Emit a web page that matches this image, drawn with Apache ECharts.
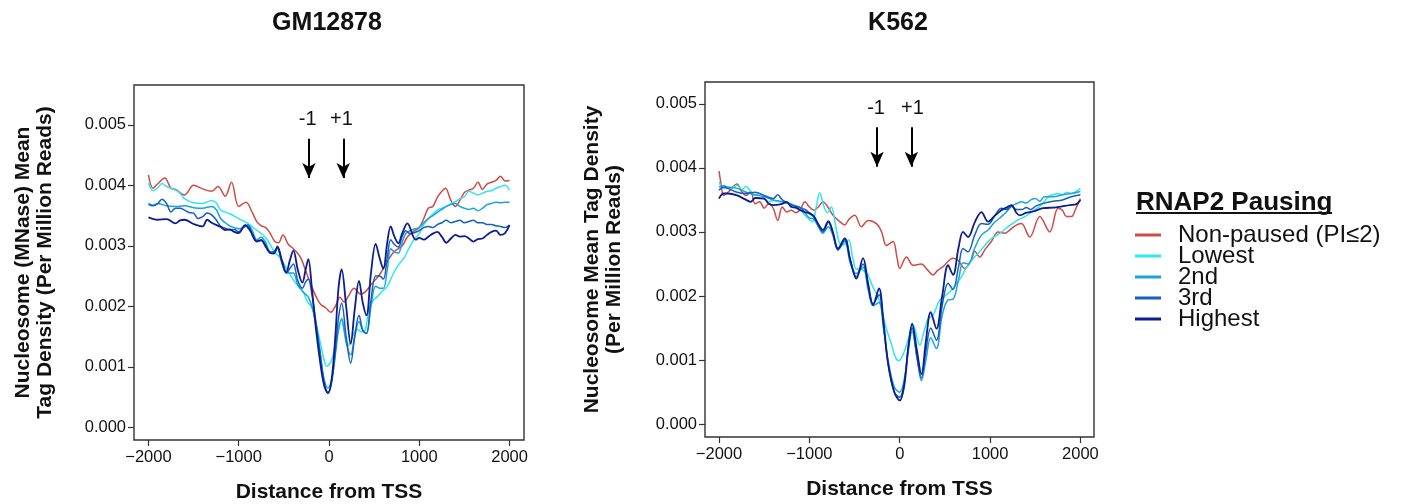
<!DOCTYPE html>
<html>
<head>
<meta charset="utf-8">
<script src="https://cdn.jsdelivr.net/npm/echarts@6/dist/echarts.min.js"></script>
<style>
html,body{margin:0;padding:0;background:#fff;}
#chart{width:1401px;height:504px;}
</style>
</head>
<body>
<div id="chart"></div>
<script>
// Values are mean tag density in units of 10^-3 (per million reads); x = distance from TSS (bp)
const X_TICKS = [-2000, -1000, 0, 1000, 2000];
const Y_TICKS = [0, 1, 2, 3, 4, 5];
const GROUPS = ['Non-paused (PI\u22642)', 'Lowest', '2nd', '3rd', 'Highest'];
const COLORS = ['#D04A45', '#2EE6EE', '#1BA3DC', '#155FBE', '#0D1C8E'];
const PANEL_TITLES = ['GM12878', 'K562'];

// ---------- GM12878 ----------
const gmNonPaused = [[-2000,4.17],[-1950,3.95],[-1900,4.02],[-1820,4.12],[-1750,3.95],[-1700,3.93],[-1600,3.84],[-1500,4.0],[-1400,3.94],[-1300,3.9],[-1230,3.98],[-1150,3.82],[-1080,4.05],[-1000,3.65],[-920,3.72],[-850,3.55],[-800,3.4],[-750,3.33],[-700,3.3],[-650,3.2],[-600,3.07],[-560,3.05],[-510,3.18],[-450,3.02],[-400,2.96],[-320,2.82],[-250,2.55],[-185,2.3],[-140,2.15],[-92,2.03],[-40,1.98],[20,1.9],[70,2.0],[122,2.15],[166,2.07],[220,2.18],[277,2.3],[351,2.2],[410,2.25],[462,2.35],[520,2.45],[572,2.55],[646,2.74],[720,2.9],[812,3.0],[870,3.15],[950,3.25],[1000,3.3],[1050,3.45],[1100,3.62],[1150,3.65],[1200,3.8],[1250,3.9],[1290,3.95],[1350,3.75],[1400,3.65],[1450,3.75],[1500,3.88],[1550,3.92],[1600,3.95],[1650,4.05],[1700,3.93],[1750,4.02],[1800,4.05],[1850,4.08],[1900,4.15],[1950,4.07],[2000,4.08]];
const gmLowest = [[-2000,4.04],[-1950,3.91],[-1900,3.95],[-1850,4.03],[-1800,3.98],[-1750,3.95],[-1700,3.92],[-1650,3.87],[-1600,3.78],[-1500,3.71],[-1400,3.7],[-1300,3.75],[-1250,3.71],[-1200,3.59],[-1100,3.53],[-1000,3.45],[-900,3.37],[-831,3.29],[-750,3.2],[-683,3.1],[-600,2.89],[-540,2.8],[-462,2.6],[-400,2.45],[-351,2.35],[-290,2.25],[-240,2.08],[-185,1.97],[-150,1.75],[-111,1.5],[-60,1.15],[-26,1.01],[20,1.08],[55,1.25],[100,1.6],[137,1.77],[175,1.55],[214,1.35],[260,1.5],[314,1.62],[360,1.58],[400,1.6],[443,1.95],[490,2.1],[536,2.16],[590,2.25],[646,2.33],[700,2.5],[757,2.66],[831,2.8],[900,3.0],[950,3.12],[1000,3.2],[1050,3.35],[1100,3.45],[1150,3.52],[1200,3.59],[1250,3.62],[1300,3.65],[1350,3.7],[1400,3.73],[1450,3.78],[1500,3.81],[1550,3.9],[1600,3.87],[1650,3.84],[1700,3.87],[1750,3.9],[1800,3.91],[1850,3.95],[1900,3.98],[1950,4.0],[2000,3.92]];
const gm2nd = [[-2000,3.7],[-1950,3.67],[-1900,3.7],[-1800,3.66],[-1700,3.65],[-1600,3.66],[-1500,3.63],[-1400,3.62],[-1300,3.65],[-1250,3.6],[-1200,3.45],[-1150,3.38],[-1100,3.33],[-1050,3.3],[-1000,3.28],[-950,3.3],[-900,3.35],[-850,3.25],[-800,3.1],[-750,3.14],[-700,3.05],[-650,2.9],[-610,2.9],[-572,2.95],[-520,2.7],[-473,2.55],[-435,2.55],[-395,2.55],[-345,2.35],[-295,2.25],[-260,2.2],[-229,2.15],[-190,2.0],[-150,1.75],[-100,1.25],[-55,0.8],[-11,0.65],[30,0.8],[70,1.2],[105,1.6],[140,1.8],[190,1.4],[240,1.2],[285,1.5],[332,1.75],[375,1.6],[415,1.55],[465,2.0],[517,2.33],[560,2.3],[602,2.3],[645,2.6],[683,2.95],[725,2.9],[768,2.88],[810,3.05],[850,3.2],[900,3.25],[950,3.28],[1000,3.3],[1050,3.38],[1100,3.45],[1150,3.5],[1200,3.55],[1250,3.6],[1300,3.65],[1350,3.68],[1400,3.7],[1450,3.65],[1500,3.62],[1550,3.6],[1600,3.62],[1650,3.58],[1700,3.62],[1750,3.68],[1800,3.7],[1850,3.72],[1900,3.71],[1950,3.72],[2000,3.72]];
const gm3rd = [[-2000,3.68],[-1950,3.66],[-1900,3.69],[-1850,3.77],[-1800,3.7],[-1750,3.56],[-1700,3.62],[-1650,3.62],[-1600,3.59],[-1550,3.55],[-1500,3.54],[-1450,3.45],[-1400,3.48],[-1350,3.54],[-1300,3.51],[-1250,3.43],[-1200,3.32],[-1150,3.29],[-1100,3.26],[-1050,3.27],[-1000,3.23],[-950,3.3],[-900,3.33],[-850,3.2],[-800,3.08],[-750,3.1],[-700,3.0],[-650,2.88],[-610,2.9],[-572,2.97],[-520,2.72],[-473,2.55],[-435,2.62],[-395,2.7],[-345,2.42],[-295,2.3],[-260,2.4],[-229,2.45],[-190,2.2],[-150,1.8],[-100,1.25],[-55,0.75],[-11,0.58],[30,0.75],[70,1.25],[105,1.8],[140,2.05],[190,1.5],[240,1.06],[285,1.5],[332,1.85],[375,1.6],[415,1.55],[465,2.1],[517,2.5],[560,2.5],[602,2.45],[645,2.8],[683,3.1],[725,3.02],[768,2.98],[810,3.15],[850,3.25],[900,3.2],[950,3.22],[1000,3.25],[1050,3.3],[1100,3.32],[1150,3.3],[1200,3.35],[1250,3.38],[1300,3.42],[1350,3.38],[1400,3.4],[1450,3.42],[1500,3.38],[1550,3.4],[1600,3.42],[1650,3.38],[1700,3.38],[1750,3.35],[1800,3.35],[1850,3.33],[1900,3.32],[1950,3.3],[2000,3.34]];
const gmHighest = [[-2000,3.47],[-1900,3.43],[-1800,3.44],[-1700,3.37],[-1650,3.42],[-1600,3.43],[-1500,3.36],[-1400,3.32],[-1350,3.43],[-1300,3.38],[-1200,3.31],[-1150,3.26],[-1100,3.27],[-1050,3.23],[-1000,3.21],[-930,3.34],[-870,3.24],[-800,3.07],[-750,3.09],[-700,2.98],[-650,2.88],[-610,2.87],[-572,2.99],[-520,2.75],[-473,2.56],[-435,2.75],[-395,2.92],[-345,2.6],[-295,2.39],[-260,2.6],[-229,2.78],[-190,2.3],[-150,1.7],[-100,1.1],[-55,0.7],[-11,0.56],[30,0.8],[70,1.5],[105,2.3],[140,2.61],[190,2.0],[240,1.38],[285,1.95],[332,2.42],[375,2.05],[415,1.85],[465,2.55],[517,3.03],[560,2.8],[602,2.62],[645,3.05],[683,3.32],[725,3.15],[768,3.04],[810,3.2],[868,3.37],[960,3.1],[1000,3.13],[1050,3.1],[1100,3.15],[1150,3.2],[1200,3.23],[1250,3.15],[1300,3.05],[1350,3.12],[1400,3.18],[1450,3.15],[1500,3.16],[1550,3.12],[1600,3.07],[1650,3.11],[1700,3.12],[1750,3.18],[1800,3.23],[1850,3.25],[1900,3.18],[1950,3.21],[2000,3.34]];

// ---------- K562 ----------
const kNonPaused = [[-2000,3.95],[-1975,3.73],[-1950,3.57],[-1900,3.62],[-1800,3.75],[-1750,3.63],[-1700,3.57],[-1650,3.63],[-1600,3.44],[-1550,3.47],[-1500,3.37],[-1450,3.44],[-1400,3.37],[-1350,3.18],[-1300,3.39],[-1250,3.31],[-1200,3.34],[-1150,3.3],[-1100,3.35],[-1050,3.47],[-1000,3.39],[-950,3.34],[-900,3.39],[-850,3.47],[-800,3.4],[-738,3.26],[-664,3.16],[-609,3.11],[-560,3.2],[-498,3.26],[-424,3.08],[-351,3.18],[-258,3.13],[-200,3.0],[-148,2.79],[-74,2.85],[-30,2.6],[0,2.43],[74,2.61],[148,2.48],[240,2.5],[300,2.42],[369,2.33],[420,2.4],[480,2.46],[590,2.59],[650,2.55],[720,2.43],[793,2.56],[830,2.7],[885,2.61],[950,2.74],[1014,2.85],[1088,3.0],[1162,2.98],[1217,3.03],[1280,3.1],[1346,3.13],[1439,2.92],[1550,3.24],[1660,3.0],[1752,3.37],[1800,3.34],[1845,3.24],[1900,3.24],[1950,3.37],[2000,3.52]];
const kLowest = [[-2000,3.78],[-1950,3.68],[-1900,3.68],[-1850,3.69],[-1800,3.73],[-1750,3.66],[-1700,3.71],[-1650,3.63],[-1600,3.57],[-1550,3.6],[-1500,3.52],[-1450,3.47],[-1400,3.49],[-1300,3.47],[-1200,3.44],[-1150,3.37],[-1100,3.35],[-1050,3.26],[-965,3.16],[-930,3.35],[-885,3.61],[-840,3.4],[-800,3.3],[-756,3.39],[-710,3.1],[-664,2.82],[-620,2.8],[-565,2.88],[-520,2.6],[-480,2.42],[-430,2.42],[-390,2.38],[-351,2.33],[-300,2.15],[-240,1.99],[-200,1.8],[-150,1.5],[-92,1.25],[-50,1.05],[-11,0.99],[40,1.1],[92,1.31],[148,1.55],[221,1.23],[270,1.45],[314,1.65],[369,1.7],[443,1.94],[500,2.0],[572,2.09],[630,2.2],[683,2.3],[740,2.45],[793,2.55],[900,2.72],[1000,2.88],[1100,2.97],[1200,3.08],[1300,3.18],[1400,3.25],[1500,3.35],[1550,3.4],[1600,3.47],[1650,3.56],[1700,3.58],[1750,3.6],[1800,3.58],[1850,3.62],[1900,3.6],[1950,3.63],[2000,3.68]];
const k2nd = [[-2000,3.7],[-1950,3.72],[-1900,3.7],[-1800,3.68],[-1700,3.62],[-1600,3.58],[-1500,3.55],[-1400,3.5],[-1300,3.47],[-1200,3.43],[-1100,3.38],[-1050,3.3],[-1000,3.22],[-950,3.2],[-900,3.08],[-850,2.98],[-790,3.08],[-740,2.95],[-683,2.72],[-609,2.85],[-545,2.5],[-480,2.35],[-406,2.45],[-350,2.1],[-295,1.85],[-229,1.9],[-180,1.5],[-129,1.0],[-60,0.58],[0,0.5],[50,0.7],[95,1.15],[137,1.45],[190,1.05],[240,0.68],[290,1.0],[343,1.35],[406,1.18],[470,1.7],[535,1.94],[590,1.95],[650,2.25],[701,2.52],[756,2.5],[830,2.75],[904,2.95],[978,3.03],[1050,3.15],[1125,3.24],[1180,3.31],[1236,3.4],[1290,3.44],[1350,3.47],[1400,3.45],[1450,3.5],[1500,3.52],[1550,3.48],[1600,3.55],[1700,3.55],[1800,3.58],[1900,3.6],[2000,3.63]];
const k3rd = [[-2000,3.65],[-1950,3.7],[-1900,3.68],[-1800,3.62],[-1700,3.6],[-1600,3.62],[-1500,3.57],[-1400,3.52],[-1350,3.58],[-1300,3.5],[-1200,3.42],[-1100,3.38],[-1050,3.35],[-1000,3.3],[-950,3.25],[-900,3.1],[-850,3.0],[-790,3.15],[-740,2.98],[-683,2.72],[-609,2.88],[-545,2.55],[-480,2.3],[-406,2.5],[-350,2.15],[-295,1.88],[-229,2.02],[-180,1.55],[-129,0.95],[-60,0.5],[0,0.42],[50,0.65],[95,1.2],[137,1.5],[190,1.05],[240,0.72],[290,1.15],[343,1.5],[406,1.31],[470,1.85],[535,2.2],[590,2.1],[650,2.45],[701,2.74],[756,2.69],[830,2.95],[904,3.13],[978,3.12],[1050,3.25],[1125,3.37],[1180,3.35],[1236,3.4],[1290,3.35],[1350,3.35],[1400,3.38],[1450,3.35],[1500,3.4],[1600,3.45],[1700,3.48],[1800,3.5],[1900,3.55],[2000,3.58]];
const kHighest = [[-2000,3.52],[-1950,3.6],[-1900,3.6],[-1800,3.57],[-1700,3.5],[-1650,3.47],[-1600,3.53],[-1500,3.52],[-1450,3.44],[-1400,3.42],[-1300,3.44],[-1250,3.47],[-1200,3.39],[-1150,3.38],[-1100,3.34],[-1050,3.31],[-1000,3.29],[-950,3.24],[-900,3.12],[-850,3.03],[-790,3.17],[-740,3.0],[-683,2.74],[-609,2.9],[-545,2.55],[-480,2.27],[-406,2.59],[-350,2.2],[-295,1.86],[-229,2.12],[-180,1.6],[-129,0.95],[-60,0.5],[0,0.37],[50,0.6],[95,1.2],[137,1.57],[190,1.15],[240,0.78],[290,1.3],[343,1.75],[406,1.49],[470,2.0],[535,2.48],[590,2.33],[650,2.75],[701,3.0],[756,2.92],[830,3.15],[904,3.31],[978,3.16],[1050,3.25],[1125,3.34],[1180,3.38],[1236,3.42],[1290,3.3],[1328,3.26],[1400,3.3],[1439,3.31],[1500,3.33],[1586,3.37],[1700,3.38],[1771,3.39],[1881,3.42],[1950,3.43],[2000,3.5]];

// nucleosome annotations: [label, x of text, x of arrow]
const gmMarks = [['-1', -236, -222], ['+1', 137, 158]];
const kMarks = [['-1', -262, -251], ['+1', 140, 129]];

const PANELS = [
  {data: [gmNonPaused, gmLowest, gm2nd, gm3rd, gmHighest], marks: gmMarks},
  {data: [kNonPaused, kLowest, k2nd, k3rd, kHighest], marks: kMarks}
];

const FONT = '"Liberation Sans", Arial, Helvetica, sans-serif';
const INK = '#111';

// layout (pixels / axis extents)
const LAYOUT = [
  {grid: {left: 134, top: 85, width: 390, height: 355}, xr: [-2160, 2160], yr: [-0.21, 5.657],
   yName: 'Nucleosome (MNase) Mean\nTag Density (Per Million Reads)', nameGapY: 78, titleX: 327,
   textY: 5.083, arrowTop: 4.768, arrowTip: 4.118},
  {grid: {left: 705, top: 82, width: 389, height: 355}, xr: [-2155, 2150], yr: [-0.2, 5.34],
   yName: 'Nucleosome Mean Tag Density\n(Per Million Reads)', nameGapY: 80, titleX: 898,
   textY: 4.928, arrowTop: 4.632, arrowTip: 4.017}
];

const xFmt = v => (v < 0 ? '\u2212' + (-v) : String(v));
const yFmt = v => (v / 1000).toFixed(3);

const grids = [], xAxes = [], yAxes = [], series = [], titles = [];
LAYOUT.forEach((L, i) => {
  grids.push(Object.assign({show: true, borderColor: '#333', borderWidth: 1.4, backgroundColor: 'transparent',
    containLabel: false, outerBoundsMode: 'none'}, L.grid));
  titles.push({text: PANEL_TITLES[i], left: L.titleX, top: 11, textAlign: 'center', padding: 0,
    textStyle: {fontSize: 25, fontWeight: 'bold', color: INK, fontFamily: FONT}});
  xAxes.push({
    gridIndex: i, type: 'value', min: L.xr[0], max: L.xr[1],
    axisLine: {show: false, onZero: false},
    axisTick: {show: true, customValues: X_TICKS, length: 6, lineStyle: {color: '#333', width: 1.2}},
    axisLabel: {customValues: X_TICKS, formatter: xFmt, fontSize: 16.5, margin: 9, color: INK, fontFamily: FONT},
    splitLine: {show: false},
    name: 'Distance from TSS', nameLocation: 'middle', nameGap: 42,
    nameTextStyle: {fontSize: 21, fontWeight: 'bold', color: INK, fontFamily: FONT}
  });
  yAxes.push({
    gridIndex: i, type: 'value', min: L.yr[0], max: L.yr[1],
    axisLine: {show: false, onZero: false},
    axisTick: {show: true, customValues: Y_TICKS, length: 6, lineStyle: {color: '#333', width: 1.2}},
    axisLabel: {customValues: Y_TICKS, formatter: yFmt, fontSize: 16.5, margin: 8, color: INK, fontFamily: FONT},
    splitLine: {show: false},
    name: L.yName, nameLocation: 'middle', nameGap: L.nameGapY, nameRotate: 90,
    nameTextStyle: {fontSize: 21, fontWeight: 'bold', color: INK, fontFamily: FONT, lineHeight: 22}
  });
  const P = PANELS[i];
  P.data.forEach((d, g) => {
    const s = {
      type: 'line', name: GROUPS[g], xAxisIndex: i, yAxisIndex: i, data: d,
      symbol: 'none', smooth: 0.35, z: 2 + g,
      lineStyle: {width: g === 4 ? 1.8 : 1.5, color: COLORS[g]},
      itemStyle: {color: COLORS[g]}
    };
    if (g === 0) {
      s.markLine = {
        silent: true, symbol: ['none', 'arrow'], symbolSize: [10, 15], animation: false,
        lineStyle: {color: '#000', width: 2, type: 'solid'}, label: {show: false},
        data: P.marks.map(m => [{coord: [m[2], L.arrowTop]}, {coord: [m[2], L.arrowTip]}])
      };
      s.markPoint = {
        silent: true, symbol: 'rect', symbolSize: 0, animation: false,
        label: {show: true, position: 'inside', fontSize: 20, color: INK, fontFamily: FONT,
          formatter: p => p.name},
        data: P.marks.map(m => ({name: m[0], coord: [m[1], L.textY]}))
      };
    }
    series.push(s);
  });
});

const chart = echarts.init(document.getElementById('chart'), null, {renderer: 'canvas'});
chart.setOption({
  animation: false,
  backgroundColor: '#fff',
  title: titles,
  grid: grids,
  xAxis: xAxes,
  yAxis: yAxes,
  legend: {
    data: GROUPS, orient: 'vertical', left: 1135, top: 223, padding: 0,
    itemWidth: 26, itemHeight: 3, itemGap: -3, icon: 'rect', selectedMode: false,
    textStyle: {fontSize: 24, lineHeight: 18, color: INK, fontFamily: FONT, padding: [0, 0, 0, 12]}
  },
  graphic: [
    {type: 'text', left: 1136, top: 190, style: {text: 'RNAP2 Pausing', fontSize: 26, fontWeight: 'bold', fill: INK, font: 'bold 26px ' + FONT}},
    {type: 'line', shape: {x1: 1136, y1: 213, x2: 1332, y2: 213}, style: {stroke: INK, lineWidth: 2}}
  ],
  series: series
});
</script>
</body>
</html>
